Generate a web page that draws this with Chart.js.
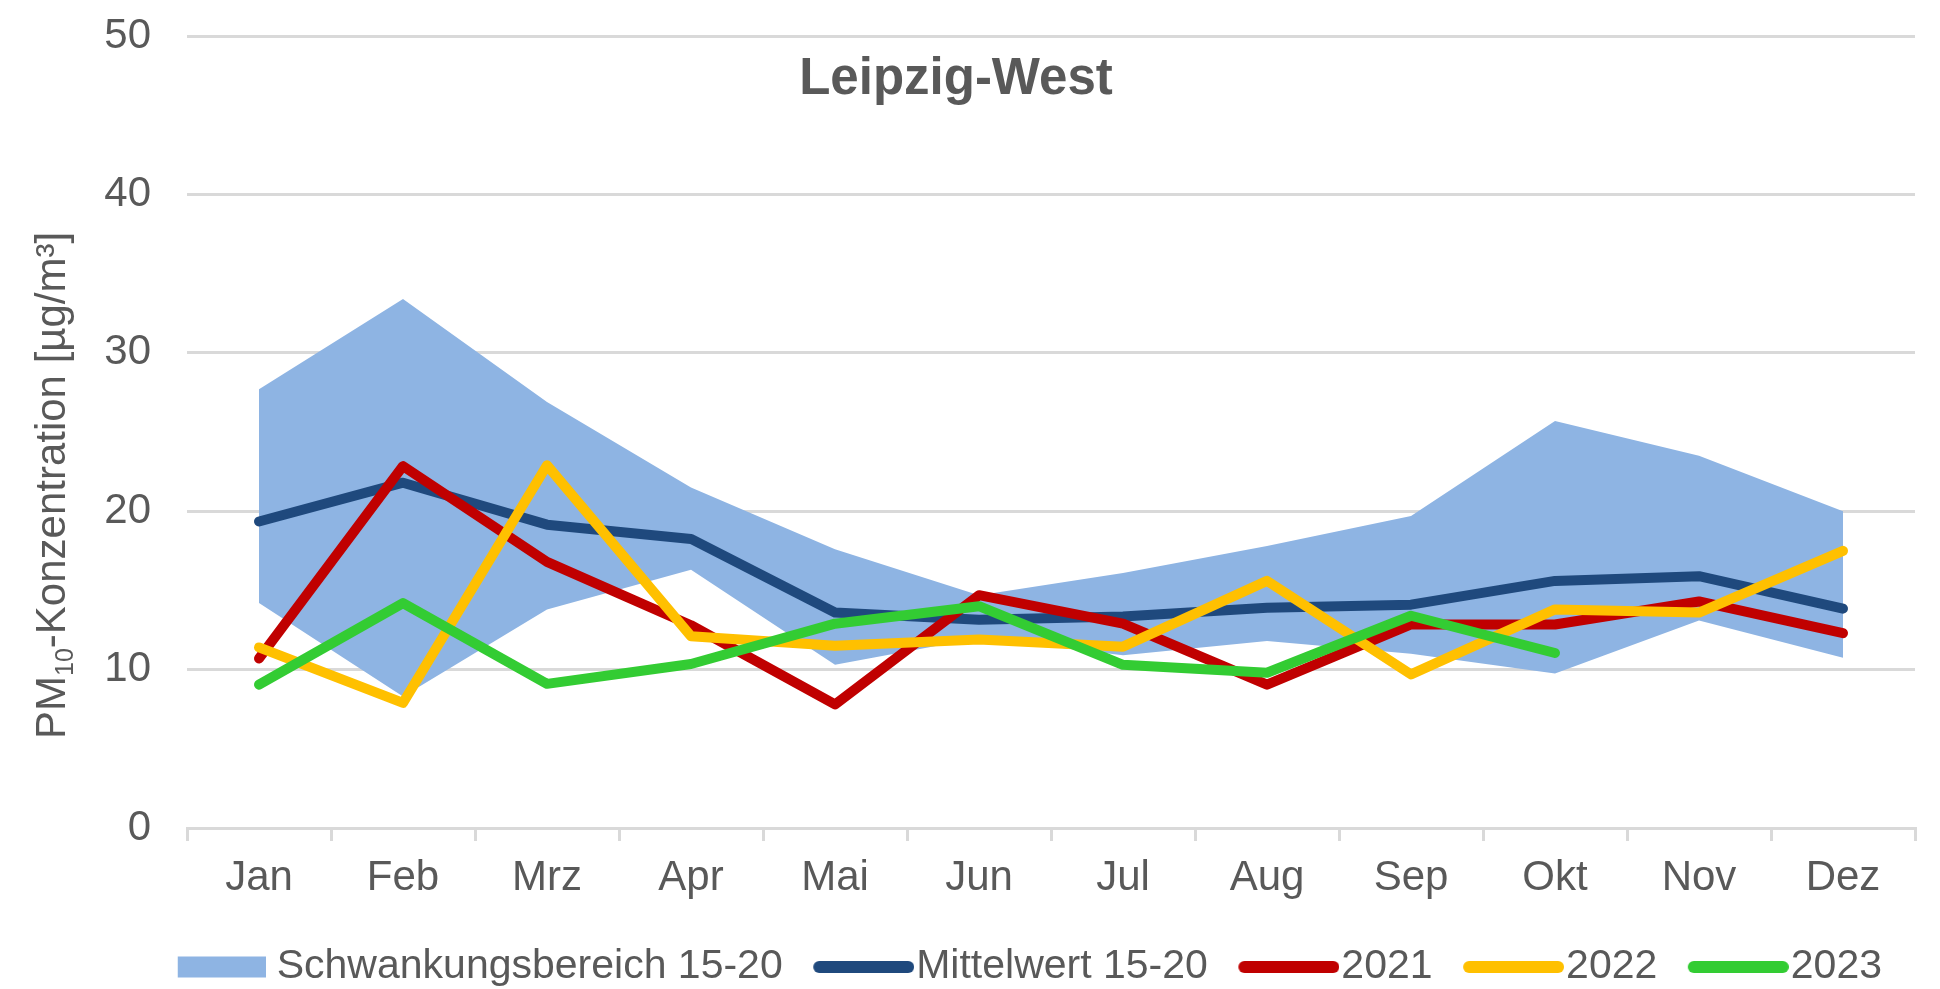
<!DOCTYPE html>
<html>
<head>
<meta charset="utf-8">
<script src="https://cdn.jsdelivr.net/npm/chart.js@4.4.1/dist/chart.umd.min.js"></script>
<style>
  body { margin: 0; background: #fff; }
  #wrap { width: 1940px; height: 989px; }
</style>
</head>
<body>
<div id="wrap"><canvas id="pmChart"></canvas></div>
<script>
// Monthly PM10 means, Leipzig-West
const months = ['Jan', 'Feb', 'Mrz', 'Apr', 'Mai', 'Jun', 'Jul', 'Aug', 'Sep', 'Okt', 'Nov', 'Dez'];
const bandLow  = [14.2, 8.3, 13.8, 16.3, 10.3, 12.0, 10.9, 11.8, 11.0, 9.75, 13.1, 10.75];
const bandHigh = [27.7, 33.4, 26.9, 21.5, 17.6, 14.7, 16.1, 17.8, 19.7, 25.7, 23.5, 20.0];
const mean1520 = [19.35, 21.8, 19.15, 18.25, 13.6, 13.15, 13.35, 13.9, 14.1, 15.6, 15.9, 13.85];
const y2021 = [10.7, 22.85, 16.8, 12.8, 7.8, 14.7, 12.9, 9.05, 12.85, 12.85, 14.3, 12.3];
const y2022 = [11.4, 7.9, 22.9, 12.1, 11.5, 11.9, 11.45, 15.6, 9.7, 13.8, 13.6, 17.5];
const y2023 = [9.05, 14.2, 9.1, 10.35, 12.9, 14.0, 10.3, 9.8, 13.4, 11.05, null, null];
const yTicks = [0, 10, 20, 30, 40, 50];

const chartTitle = 'Leipzig-West';
const GREY = '#595959';
const FONT = '"Liberation Sans", Arial, sans-serif';
const BOX_W = 80;
const LEGEND_PAD = 33;

// title and y-axis label (with subscript) drawn on top
const textPlugin = {
    id: 'textPlugin',
    afterDraw(chart) {
        const ctx = chart.ctx;
        ctx.save();
        ctx.fillStyle = GREY;
        ctx.textBaseline = 'alphabetic';

        ctx.font = 'bold 51px ' + FONT;
        ctx.textAlign = 'center';
        ctx.fillText(chartTitle, chart.width / 2 - 14, 94);

        // y axis title, rotated
        ctx.translate(65, 739);
        ctx.rotate(-Math.PI / 2);
        ctx.textAlign = 'left';
        let x = 0;
        ctx.font = '42px ' + FONT;
        ctx.fillText('PM', x, 0);
        x += ctx.measureText('PM').width;
        ctx.font = '25px ' + FONT;
        ctx.fillText('10', x, 8);
        x += ctx.measureText('10').width;
        ctx.font = '42px ' + FONT;
        ctx.fillText('-Konzentration [µg/m³]', x, 0);
        ctx.restore();
    }
};

// legend swatches as small canvases, pushed right towards the label text
function bandSwatch(color) {
    const c = document.createElement('canvas');
    c.width = BOX_W + 19;
    c.height = 22;
    const g = c.getContext('2d');
    g.fillStyle = color;
    g.fillRect(c.width - 88, 0.5, 88, 21);
    return c;
}

function lineSwatch(color) {
    const c = document.createElement('canvas');
    c.width = BOX_W + 37;
    c.height = 14;
    const g = c.getContext('2d');
    g.strokeStyle = color;
    g.lineWidth = 12;
    g.lineCap = 'round';
    g.beginPath();
    g.moveTo(c.width - 95, 7);
    g.lineTo(c.width - 6, 7);
    g.stroke();
    return c;
}

function lineSet(label, data, color, order) {
    return {
        label: label,
        data: data,
        borderColor: color,
        backgroundColor: color,
        borderWidth: 10,
        borderCapStyle: 'round',
        borderJoinStyle: 'round',
        pointRadius: 0,
        tension: 0,
        fill: false,
        order: order
    };
}

const ctx = document.getElementById('pmChart').getContext('2d');
const pmChart = new Chart(ctx, {
    type: 'line',
    data: {
        labels: months,
        datasets: [
            {
                label: 'band-low',
                data: bandLow,
                borderWidth: 0,
                pointRadius: 0,
                fill: false,
                order: 6
            },
            {
                label: 'Schwankungsbereich 15-20',
                data: bandHigh,
                borderWidth: 0,
                pointRadius: 0,
                backgroundColor: '#8EB4E3',
                borderColor: '#8EB4E3',
                fill: '-1',
                order: 5
            },
            lineSet('Mittelwert 15-20', mean1520, '#1F497D', 4),
            lineSet('2021', y2021, '#C00000', 3),
            lineSet('2022', y2022, '#FFC000', 2),
            lineSet('2023', y2023, '#33CC33', 1)
        ]
    },
    options: {
        responsive: true,
        maintainAspectRatio: false,
        animation: false,
        layout: {
            padding: { top: 36, right: 25, bottom: -8.5, left: 0 }
        },
        scales: {
            x: {
                offset: true,
                // legend is 41 + pad + 10 high, keep plot bottom at 828
                afterFit: s => { s.height = 989 + 8.5 - (51 + LEGEND_PAD) - 828; },
                grid: {
                    offset: true,
                    drawOnChartArea: false,
                    drawTicks: true,
                    tickLength: 13,
                    color: '#D9D9D9',
                    lineWidth: 3
                },
                border: { display: true, color: '#D9D9D9', width: 3 },
                ticks: {
                    color: GREY,
                    padding: 12,
                    maxRotation: 0,
                    font: { family: FONT, size: 42 }
                }
            },
            y: {
                min: 0,
                max: 50,
                afterFit: s => { s.width = 187; },
                afterBuildTicks: s => { s.ticks = yTicks.map(v => ({ value: v })); },
                grid: {
                    color: '#D9D9D9',
                    lineWidth: 3,
                    drawTicks: true,
                    tickLength: 34,
                    tickColor: 'rgba(0,0,0,0)'
                },
                border: { display: false },
                ticks: {
                    color: GREY,
                    padding: 2,
                    font: { family: FONT, size: 42 }
                }
            }
        },
        plugins: {
            title: { display: false },
            tooltip: { enabled: false },
            legend: {
                position: 'bottom',
                align: 'end',
                labels: {
                    usePointStyle: true,
                    pointStyleWidth: BOX_W,
                    boxHeight: 21,
                    padding: LEGEND_PAD,
                    color: GREY,
                    font: { family: FONT, size: 41 },
                    generateLabels: function(chart) {
                        return chart.data.datasets.slice(1).map((ds, i) => {
                            const isBand = i === 0;
                            return {
                                text: ds.label,
                                datasetIndex: i + 1,
                                fontColor: GREY,
                                pointStyle: isBand ? bandSwatch(ds.backgroundColor) : lineSwatch(ds.borderColor),
                                fillStyle: ds.backgroundColor,
                                strokeStyle: ds.borderColor,
                                lineWidth: 0,
                                hidden: false
                            };
                        });
                    }
                }
            }
        }
    },
    plugins: [textPlugin]
});
</script>
</body>
</html>
